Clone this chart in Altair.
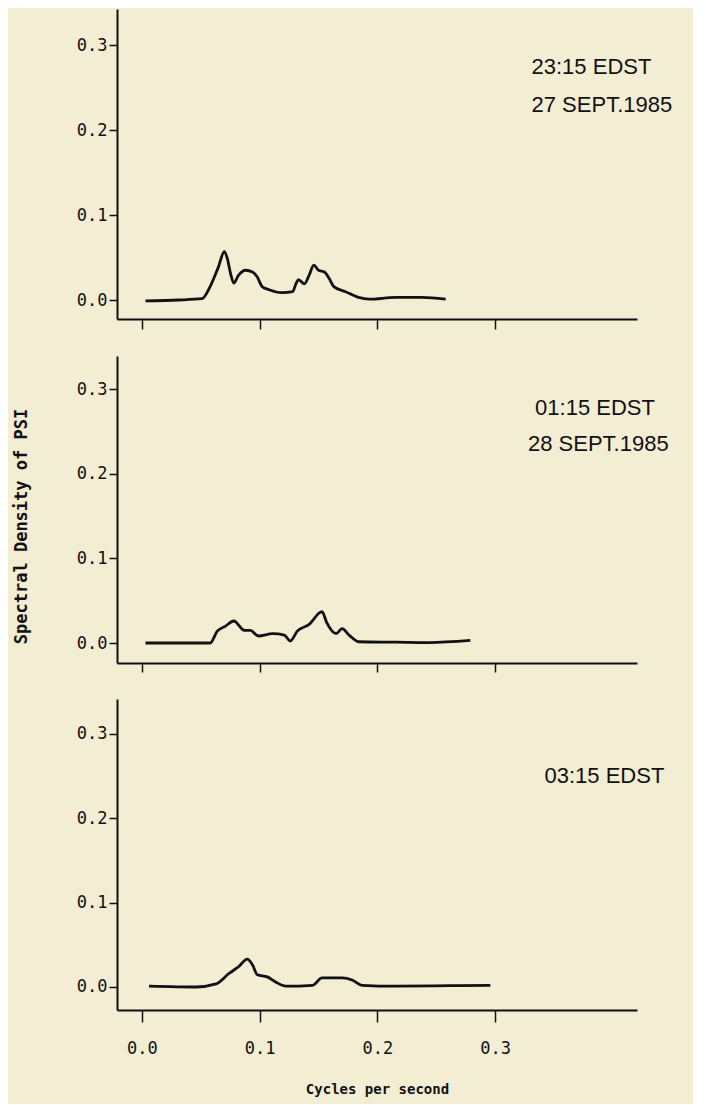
import altair as alt
import pandas as pd

# ---- data (frequency in Hz, spectral density) ----
freq_2315 = [0.003, 0.031, 0.051, 0.058, 0.065, 0.070, 0.0725, 0.0753, 0.078, 0.082, 0.088,
             0.094, 0.098, 0.102, 0.108, 0.119, 0.128, 0.131, 0.133, 0.138, 0.142, 0.146,
             0.150, 0.155, 0.159, 0.163, 0.173, 0.184, 0.193, 0.2155, 0.238, 0.258]
dens_2315 = [-0.001, 0.000, 0.0015, 0.016, 0.039, 0.057, 0.049, 0.031, 0.020, 0.029, 0.035,
             0.033, 0.027, 0.016, 0.012, 0.0086, 0.0098, 0.0196, 0.024, 0.019, 0.029, 0.041,
             0.035, 0.033, 0.0255, 0.0157, 0.0098, 0.003, 0.001, 0.003, 0.003, 0.001]

freq_0115 = [0.003, 0.058, 0.064, 0.071, 0.078, 0.087, 0.092, 0.099, 0.111, 0.121, 0.126,
             0.132, 0.142, 0.153, 0.157, 0.165, 0.170, 0.176, 0.184, 0.2155, 0.244, 0.279]
dens_0115 = [0.000, 0.000, 0.014, 0.020, 0.026, 0.015, 0.015, 0.0083, 0.011, 0.0094, 0.0024,
             0.014, 0.022, 0.037, 0.024, 0.011, 0.017, 0.0094, 0.0015, 0.001, 0.0005, 0.003]

freq_0315 = [0.006, 0.046, 0.063, 0.074, 0.082, 0.0895, 0.094, 0.098, 0.1065, 0.1135, 0.122,
             0.145, 0.153, 0.170, 0.179, 0.187, 0.2155, 0.261, 0.296]
dens_0315 = [0.001, 0.000, 0.0036, 0.016, 0.024, 0.033, 0.026, 0.0146, 0.012, 0.006, 0.001,
             0.002, 0.0107, 0.0107, 0.008, 0.002, 0.001, 0.0015, 0.002]

notes_2315 = ["23:15 EDST", "27 SEPT.1985"]
notes_0115 = ["01:15 EDST", "28 SEPT.1985"]
notes_0315 = ["03:15 EDST"]
note_x1 = [0.331, 0.331]
note_x2 = [0.334, 0.328]
note_x3 = [0.342]
note_y1 = [0.274, 0.230]
note_y2 = [0.278, 0.235]
note_y3 = [0.250]

x_ticks = [0.0, 0.1, 0.2, 0.3]
y_ticks = [0.0, 0.1, 0.2, 0.3]

BG = "#f3edd3"
INK = "#111111"
MONO = "DejaVu Sans Mono"
SANS = "Liberation Sans"
X_DOMAIN = [-0.0212, 0.4206]


def panel(freq, dens, notes, nx, ny, height, ydom, bottom, ytitle, tick):
    df = pd.DataFrame({"f": freq, "d": dens})
    if bottom:
        xaxis = alt.Axis(values=x_ticks, format=".1f", tickSize=tick, labelPadding=18,
                         title="Cycles per second", titlePadding=26, titleFontSize=14)
    else:
        xaxis = alt.Axis(values=x_ticks, labels=False, tickSize=tick, title=None)
    if ytitle:
        yaxis = alt.Axis(values=y_ticks, format=".1f", tickSize=8, labelPadding=2,
                         title=ytitle, titlePadding=46, titleY=170, titleFontSize=17)
    else:
        yaxis = alt.Axis(values=y_ticks, format=".1f", tickSize=8, labelPadding=2, title=None)
    xs = alt.Scale(domain=X_DOMAIN, nice=False, zero=False)
    ys = alt.Scale(domain=ydom, nice=False, zero=False)
    line = alt.Chart(df).mark_line(color=INK, strokeWidth=2.8, strokeJoin="round",
                                   interpolate="monotone").encode(
        x=alt.X("f:Q", scale=xs, axis=xaxis),
        y=alt.Y("d:Q", scale=ys, axis=yaxis),
        order="f:Q",
    )
    ndf = pd.DataFrame({"t": notes, "x": nx, "y": ny})
    text = alt.Chart(ndf).mark_text(align="left", baseline="middle", font=SANS,
                                    fontSize=22, color=INK).encode(
        x=alt.X("x:Q", scale=xs), y=alt.Y("y:Q", scale=ys), text="t:N")
    return alt.layer(line, text).properties(width=520, height=height)


p1 = panel(freq_2315, dens_2315, notes_2315, note_x1, note_y1, 310, [-0.02235, 0.3424], False, None, 10)
p2 = panel(freq_0115, dens_0115, notes_0115, note_x2, note_y2, 307, [-0.0236, 0.339], False,
           "Spectral Density of PSI", 9)
p3 = panel(freq_0315, dens_0315, notes_0315, note_x3, note_y3, 311, [-0.0273, 0.3415], True, None, 12)

chart = alt.vconcat(p1, p2, p3, spacing=26).properties(
    background=BG,
    padding={"left": 4, "top": 1, "right": 20, "bottom": 8},
).configure_view(stroke=None).configure_axis(
    domainColor=INK, domainWidth=2, tickColor=INK, tickWidth=1.5, grid=False,
    labelFont=MONO, labelFontSize=17, labelColor=INK,
    titleFont=MONO, titleFontWeight="bold", titleColor=INK,
)

chart.save("out.html", embed_options={"renderer": "svg", "actions": False})
